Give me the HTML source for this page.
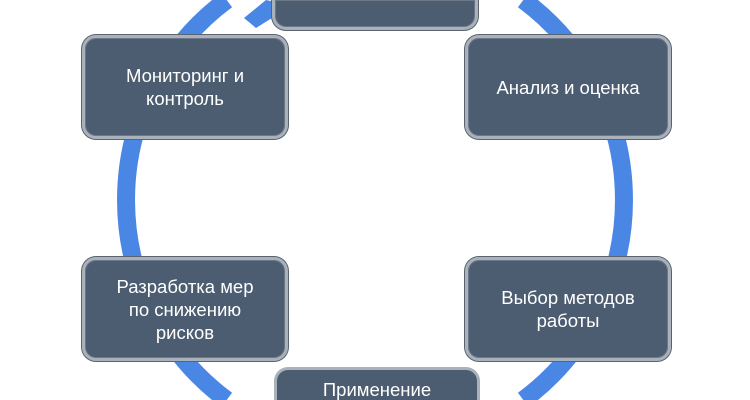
<!DOCTYPE html>
<html style="width:750px;height:400px;overflow:hidden"><head><meta charset="utf-8"><style>
body{margin:0;width:750px;height:400px;overflow:hidden;background:#fff;position:relative;font-family:"Liberation Sans",sans-serif}
.b{position:absolute;width:206px;height:104px;box-sizing:border-box;background:#4c5d72;border:3px solid #a9b1ba;border-radius:14px;box-shadow:0 0 0 1px #5a6470,inset 0 0 0 1px #6d7886;color:#fff;font-size:18.5px;line-height:23px;display:flex;align-items:center;justify-content:center;text-align:center}
</style></head><body>
<svg width="750" height="400" style="position:absolute;left:0;top:0">
<path d="M226.7,0 A249,249 0 0 0 226.7,400" fill="none" stroke="#4a86e4" stroke-width="18"/>
<path d="M523.3,0 A249,249 0 0 1 523.3,400" fill="none" stroke="#4a86e4" stroke-width="18"/>
<polygon points="266,0 284,4 272,18 256,28 244,18" fill="#4a86e4"/>
</svg>
<div class="b" style="left:272px;top:0;height:30px;border-top:none;border-top-left-radius:0;border-top-right-radius:0"></div>
<div class="b" style="left:82px;top:35px">Мониторинг и<br>контроль</div>
<div class="b" style="left:465px;top:35px">Анализ и оценка</div>
<div class="b" style="left:82px;top:257px">Разработка мер<br>по снижению<br>рисков</div>
<div class="b" style="left:465px;top:257px">Выбор методов<br>работы</div>
<div class="b" style="left:274px;top:367px;height:33px;overflow:hidden;box-shadow:none;border-bottom:none;border-bottom-left-radius:0;border-bottom-right-radius:0;align-items:flex-start;padding-top:10px;line-height:20px">Применение</div>
</body></html>
